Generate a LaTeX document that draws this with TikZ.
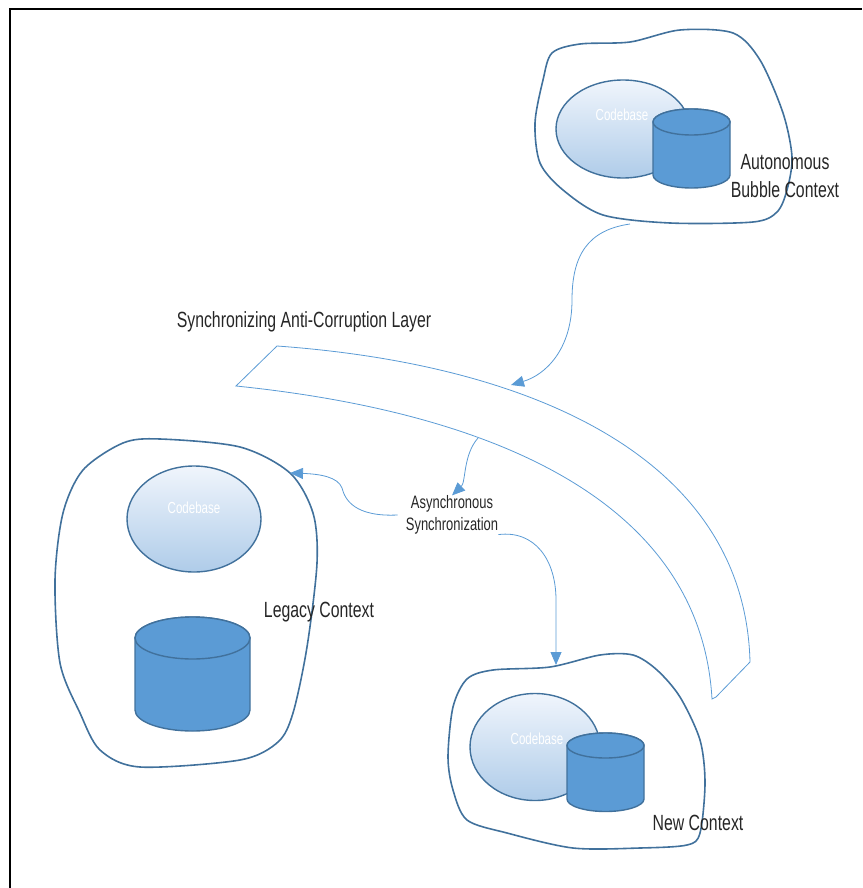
\documentclass[tikz,border=0pt]{standalone}
\usepackage{fontspec}
\setmainfont{Liberation Sans}[FakeStretch=0.72]
\usetikzlibrary{shapes.geometric, arrows.meta, positioning, calc}
\definecolor{blobline}{HTML}{41719C}
\definecolor{dbfill}{HTML}{5B9BD5}
\definecolor{linkblue}{HTML}{5B9BD5}
\definecolor{cbtop}{HTML}{F0F5FC}
\definecolor{cbbot}{HTML}{AFCCE9}
\definecolor{txtgray}{HTML}{262626}

% cylinder: centre x, top y, bottom y, x radius, y radius
\newcommand\dbcyl[5]{%
    \draw[database] (#1-#4,#2) -- (#1-#4,#3) arc[start angle=180, end angle=0, x radius=#4, y radius=#5]
        -- (#1+#4,#2) arc[start angle=0, end angle=-180, x radius=#4, y radius=#5] -- cycle;
    \draw[database] (#1,#2) ellipse[x radius=#4, y radius=#5];
}

\begin{document}
\begin{tikzpicture}[x=1pt, y=-1pt,
    bubble/.style={draw=blobline, line width=1.6pt},
    codebase/.style={draw=blobline, line width=1.4pt, ellipse, top color=cbtop, bottom color=cbbot, inner sep=0pt},
    database/.style={draw=blobline, line width=1.4pt, fill=dbfill},
    codetext/.style={text=white, font=\fontsize{16}{18}\selectfont, inner sep=0pt},
    ctxlabel/.style={text=txtgray, font=\fontsize{22}{28}\selectfont, align=center, inner sep=0pt},
    synclabel/.style={text=txtgray, font=\fontsize{18}{22}\selectfont, align=center, inner sep=0pt},
    link/.style={draw=linkblue, line width=0.8pt, -{Triangle[length=13pt,width=11pt]}},
    layer/.style={draw=linkblue, line width=0.8pt}]
    \useasboundingbox (0,0) rectangle (862,888);

    % frame
    \draw[line width=2pt] (10,888) -- (10,9) -- (862,9);

    % autonomous bubble
    \draw[bubble] plot[smooth cycle] coordinates {(552,53) (580,44) (630,42) (680,30) (733,33) (760,60) (783,113) (792,157) (787,190) (777,212) (753,222) (670,223) (603,215) (563,190) (540,163) (535,123) (543,80)};
    \node (cbauto) [codebase, minimum width=134, minimum height=98] at (623,129) {};
    \node (cbautotxt) [codetext] at (622,115) {Codebase};
    \dbcyl{691.5}{122}{175}{38.5}{13}
    \node (autoctx) [ctxlabel] at (785,176) {Autonomous\\Bubble Context};

    % legacy context
    \draw[bubble] plot[smooth cycle] coordinates {(123,443) (160,439) (240,447) (290,473) (313,513) (317,563) (307,647) (293,713) (278,742) (240,760) (140,767) (100,750) (80,713) (60,663) (55,580) (63,513) (83,470)};
    \node (cblegacy) [codebase, minimum width=134, minimum height=106] at (194,519) {};
    \node (cblegacytxt) [codetext] at (194,508) {Codebase};
    \dbcyl{192.5}{638}{710}{57.5}{21}
    \node (legacyctx) [ctxlabel] at (319,612) {Legacy Context};

    % new context
    \draw[bubble] plot[smooth cycle] coordinates {(467,679) (493,670) (550,667) (600,655) (633,655) (657,670) (680,697) (700,740) (705,783) (700,833) (687,845) (640,848) (573,848) (507,833) (467,820) (453,790) (448,757) (453,707)};
    \node (cbnew) [codebase, minimum width=130, minimum height=107] at (535,747) {};
    \node (cbnewtxt) [codetext] at (537,739) {Codebase};
    \dbcyl{605.5}{745.5}{799}{38.5}{12.5}
    \node (newctx) [ctxlabel] at (698,823) {New Context};

    % anti-corruption layer
    \node (acl) [ctxlabel] at (304,322) {Synchronizing Anti-Corruption Layer};
    \draw[layer] (277,346) .. controls (540,365) and (745,462) .. (750,662)
        -- (716,697)
        -- (712,699) .. controls (700,490) and (470,410) .. (236,386)
        -- cycle;

    \node (async) [synclabel] at (452,515) {Asynchronous\\Synchronization};

    \coordinate (fromauto) at (630,224);
    \coordinate (tolayer) at (511,385);
    \coordinate (fromlayer) at (478,438);
    \coordinate (tolegacy) at (290,473);
    \coordinate (tonew) at (556,665);

    \draw[link] (fromauto) .. controls (588,230) and (572,255) .. (572,300) .. controls (572,350) and (545,375) .. (tolayer);
    \draw[link] (fromlayer) .. controls (463,455) and (466,482) .. (async.north);
    \draw[link] ([xshift=-8pt]async.west) .. controls (355,517) and (345,500) .. (342,488) .. controls (338,477) and (320,474) .. (tolegacy);
    \draw[link] (async.south east) .. controls (535,530) and (556,560) .. (556,600) -- (tonew);
\end{tikzpicture}
\end{document}
